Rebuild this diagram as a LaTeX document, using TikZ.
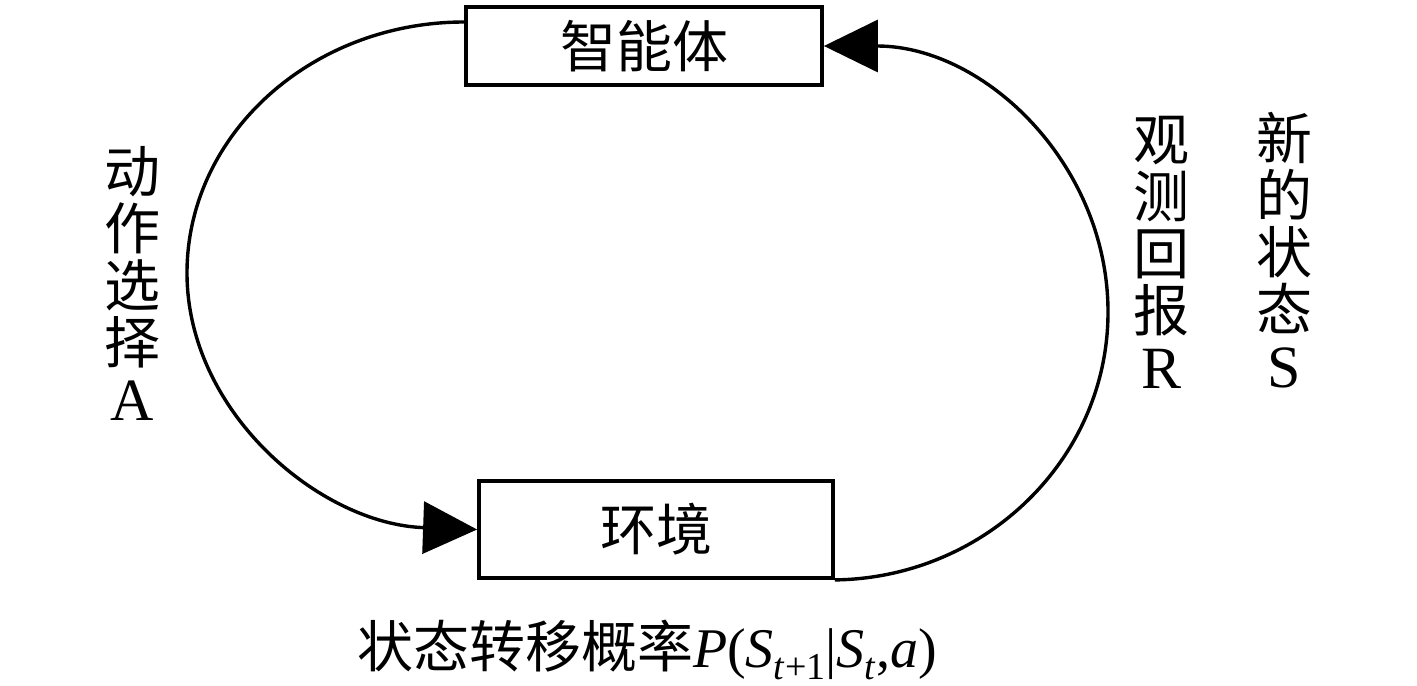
\documentclass[tikz,border=0pt]{standalone}
\usepackage{fontspec}
\setmainfont{Liberation Serif}
\newfontfamily\cjk{Noto Sans CJK SC}
\usetikzlibrary{arrows.meta}
\newcommand\mysub[1]{\raisebox{-0.22em}{\fontsize{19pt}{19pt}\selectfont #1}}
\newcommand\biglat[1]{{\rmfamily\fontsize{30pt}{28.5pt}\selectfont #1}}
\tikzset{
  box/.style={draw, line width=1.9pt, fill=white, inner sep=0pt},
  lbl/.style={font=\fontsize{28pt}{28.5pt}\selectfont\cjk, inner sep=0pt, align=center},
  flow/.style={line width=1.7pt, -{Triangle[length=27pt,width=26pt]}}
}
\begin{document}
\begin{tikzpicture}[x=0.5pt,y=-0.5pt]
\useasboundingbox (0,0) rectangle (1417,685);
\node[box, minimum width=178pt, minimum height=39pt, lbl] (agent) at (644,46) {智能体};
\node[box, minimum width=177pt, minimum height=48.5pt, lbl] (env) at (656,529.5) {环境};
\draw[flow] ([yshift=12pt]agent.west) .. controls (312,22) and (187,134) .. (187,273)
  .. controls (187,412) and (320,524) .. (env.west);
\draw[flow] (env.south east) .. controls (985,578) and (1108,459) .. (1108,312)
  .. controls (1108,165) and (985,46) .. (agent.east);
\node[lbl] (act) at (132,283) {动\\作\\选\\择\\\biglat{A}};
\node[lbl] (rew) at (1161,252) {观\\测\\回\\报\\\biglat{R}};
\node[lbl] (st) at (1284,250) {新\\的\\状\\态\\\biglat{S}};
\node[lbl] (prob) at (647,650) {状态转移概率\rmfamily\textit{P}(\textit{S}\mysub{\textit{t}+1}|\textit{S}\mysub{\textit{t}},\textit{a})};
\end{tikzpicture}
\end{document}
